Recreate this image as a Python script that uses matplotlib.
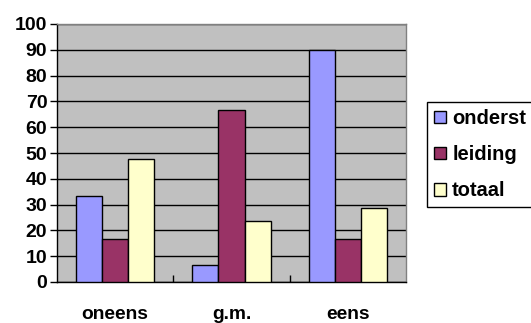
import matplotlib.pyplot as plt
import numpy as np
from matplotlib.patches import Patch

categories = ['oneens', 'g.m.', 'eens']
series = ['onderst', 'leiding', 'totaal']
onderst = [33.3, 6.7, 90.0]
leiding = [16.7, 66.7, 16.7]
totaal = [47.6, 23.8, 28.6]
colors = ['#9999FF', '#993366', '#FFFFCC']

plt.rcParams['font.family'] = 'Liberation Sans'
plt.rcParams['font.weight'] = 'bold'

fig = plt.figure(figsize=(5.31, 3.23), dpi=100)
ax = fig.add_axes([57 / 531, 41 / 323, 349 / 531, 258 / 323])
ax.set_facecolor('#C0C0C0')

x = np.arange(len(categories))
w = 0.225
for i, (vals, c) in enumerate(zip([onderst, leiding, totaal], colors)):
    ax.bar(x + (i - 1) * w, vals, width=w, color=c, edgecolor='black',
           linewidth=1, zorder=3)

ax.set_xlim(-0.5, 2.5)
ax.set_ylim(0, 100)
ax.set_yticks(range(0, 101, 10))
ax.yaxis.grid(True, color='black', linewidth=1, zorder=1)
ax.set_axisbelow(True)

ax.set_xticks([0.5, 1.5])
ax.set_xticklabels([])
ax.set_xticks(x, minor=True)
ax.set_xticklabels(categories, minor=True, fontsize=13.8, fontweight='bold')
ax.tick_params(axis='x', which='major', direction='in', length=5, width=1)
ax.tick_params(axis='x', which='minor', length=0, pad=17)
ax.tick_params(axis='y', direction='out', length=5, width=1, labelsize=14, pad=2)
for lab in ax.get_yticklabels():
    lab.set_fontweight('bold')

ax.spines['left'].set_color('black')
ax.spines['bottom'].set_color('black')
ax.spines['top'].set_color('#808080')
ax.spines['right'].set_color('#808080')
for s in ax.spines.values():
    s.set_linewidth(1)

handles = [Patch(facecolor=c, edgecolor='black', linewidth=1) for c in colors]
leg = fig.legend(handles, series, loc='upper left',
                 bbox_to_anchor=(427 / 531, 1 - 102 / 323),
                 fancybox=False, shadow=False, framealpha=1,
                 edgecolor='black', handlelength=0.6,
                 handleheight=0.6, handletextpad=0.3, labelspacing=0.85,
                 borderpad=0.35, borderaxespad=0,
                 prop={'weight': 'bold', 'size': 14.5})
leg.get_frame().set_linewidth(1)

fig.savefig('out.png', dpi=100)
